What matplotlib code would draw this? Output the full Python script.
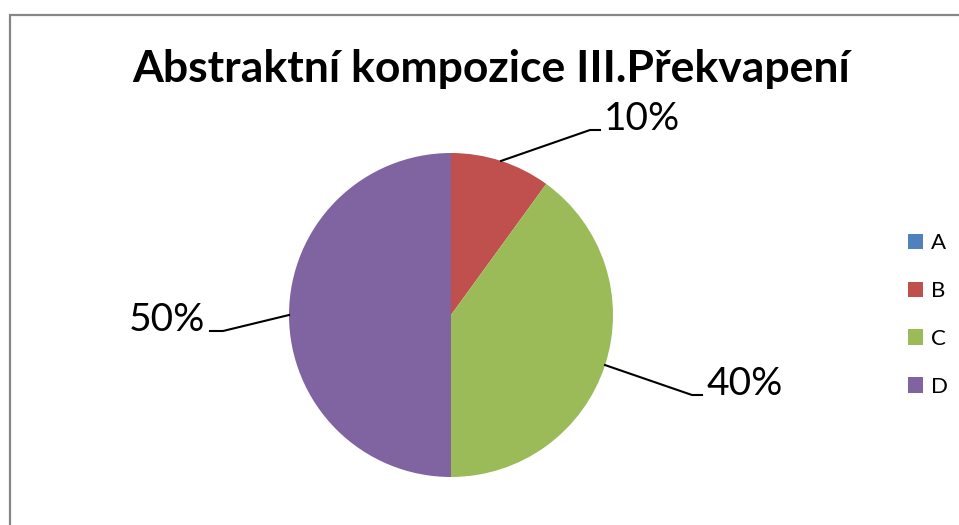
import matplotlib
matplotlib.use('Agg')
import matplotlib.pyplot as plt
from matplotlib.patches import Rectangle
from matplotlib.lines import Line2D
import numpy as np

plt.rcParams['font.family'] = ['Lato', 'DejaVu Sans']

categories = ['A', 'B', 'C', 'D']
values = [0, 10, 40, 50]
pct_labels = ['', '10%', '40%', '50%']
colors = ['#4F81BD', '#C0504D', '#9BBB59', '#8064A2']
title = 'Abstraktní kompozice III.Překvapení'

W, H = 959, 525
fig = plt.figure(figsize=(W / 100, H / 100), dpi=100)
fig.patch.set_facecolor('white')

# outer chart border (cropped on right and bottom)
fig.add_artist(Rectangle((10 / W, -0.1), 1.2, (H - 15) / H + 0.1,
                         transform=fig.transFigure, fill=False,
                         edgecolor='#868686', linewidth=1.6))

cx, cy, r = 451, 315, 162
ax = fig.add_axes([(cx - r) / W, (H - cy - r) / H, 2 * r / W, 2 * r / H])
wedges, _ = ax.pie(values, colors=colors, startangle=90, counterclock=False,
                   radius=1, wedgeprops=dict(linewidth=0))
ax.set_xlim(-1, 1)
ax.set_ylim(-1, 1)
ax.set_aspect('equal')
ax.axis('off')

# leader elbow / end positions (pixels) for labels B, C, D
elbows = {1: ((590, 130), (600, 130)), 2: ((692, 395), (702, 395)),
          3: ((223, 331), (210, 331))}

def px(x, y):
    return ((x - cx) / r, (cy - y) / r)

for i, w in enumerate(wedges):
    if values[i] == 0:
        continue
    ang = np.deg2rad((w.theta1 + w.theta2) / 2)
    ex, ey = np.cos(ang), np.sin(ang)
    (e1x, e1y), (e2x, e2y) = elbows[i]
    p1 = px(e1x, e1y)
    p2 = px(e2x, e2y)
    ax.add_line(Line2D([ex, p1[0], p2[0]], [ey, p1[1], p2[1]], color='black',
                       linewidth=1.5, clip_on=False))
    if p2[0] > p1[0]:
        ax.text(p2[0] + 4 / r, p2[1], pct_labels[i], ha='left', va='baseline',
                fontsize=28, clip_on=False)
    else:
        ax.text(p2[0] - 5 / r, p2[1], pct_labels[i], ha='right', va='baseline',
                fontsize=28, clip_on=False)

fig.text(491 / W, 1 - 82 / H, title, ha='center', va='baseline',
         fontsize=32, fontweight='bold')

leg = fig.legend(wedges, categories, loc='center left',
                 bbox_to_anchor=(888 / W, 1 - 315 / H), frameon=False,
                 fontsize=16, handlelength=0.68, handleheight=0.68,
                 handletextpad=0.35, labelspacing=1.25)

fig.savefig('out.png', dpi=100, facecolor='white')
